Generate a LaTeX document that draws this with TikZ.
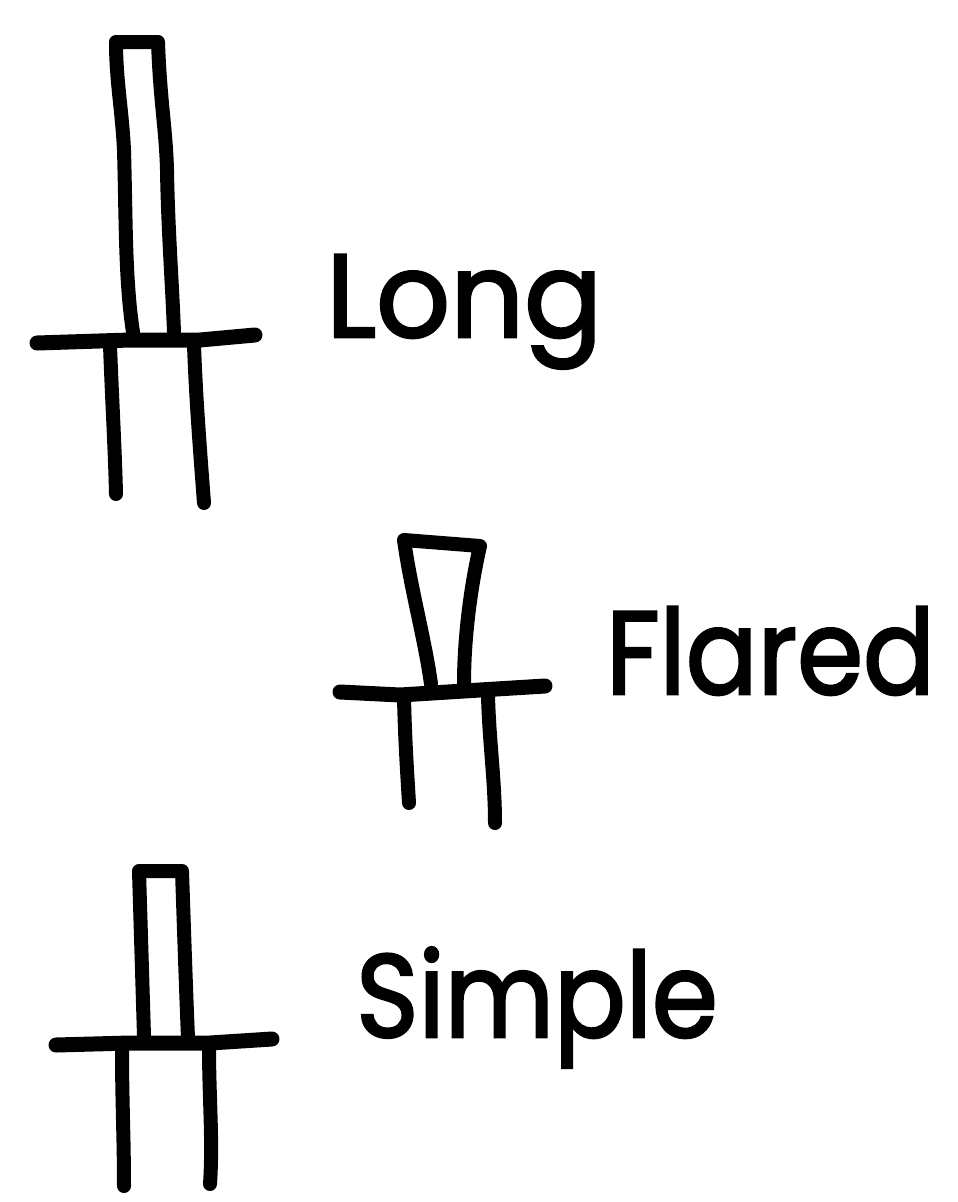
\documentclass[tikz,border=0pt]{standalone}
\usepackage{fontspec}
\setmainfont{Poppins}[FakeBold=2.2]
\tikzset{ink/.style={line width=15pt,line cap=round,line join=round,black},
thin ink/.style={line width=14pt,line cap=round,line join=round,black},
lab/.style={font=\fontsize{118}{122}\selectfont,inner sep=0pt,anchor=base west}}
\begin{document}
\begin{tikzpicture}[x=1pt,y=-1pt]
\useasboundingbox (0,0) rectangle (958,1202);
% Long
\draw[thin ink] (133,332) .. controls (125,280) and (126,220) .. (124,150) .. controls (122,110) and (116,80) .. (116,42) -- (158,42) .. controls (160,100) and (166,130) .. (167,170) .. controls (168,230) and (172,280) .. (174,332);
\draw[ink] (37,343) -- (130,340) -- (200,340) -- (255,335);
\draw[thin ink] (110,345) .. controls (112,400) and (115,450) .. (116,494);
\draw[thin ink] (194,345) .. controls (196,400) and (200,450) .. (204,503);
% Flared
\draw[thin ink] (431,684) .. controls (425,640) and (411,590) .. (404,540) -- (480,546) .. controls (470,590) and (464,640) .. (464,684);
\draw[ink] (340,692) -- (400,695) -- (480,690) -- (545,686);
\draw[thin ink] (404,698) .. controls (405,740) and (407,770) .. (409,803);
\draw[thin ink] (488,695) .. controls (489,740) and (495,780) .. (495,823);
% Simple
\draw[thin ink] (144,1036) -- (139,871) -- (182,871) .. controls (184,930) and (186,990) .. (188,1038);
\draw[ink] (56,1045) -- (130,1043) -- (210,1043) -- (272,1039);
\draw[thin ink] (122,1050) .. controls (122,1100) and (124,1140) .. (124,1186);
\draw[thin ink] (209,1046) .. controls (209,1100) and (213,1140) .. (210,1184);
% labels
\node[lab,xscale=0.98] (long) at (326,337) {Long};
\node[lab,xscale=0.90] (flared) at (606,694) {Flared};
\node[lab,xscale=0.90] (simple) at (356,1037) {Simple};
\end{tikzpicture}
\end{document}
